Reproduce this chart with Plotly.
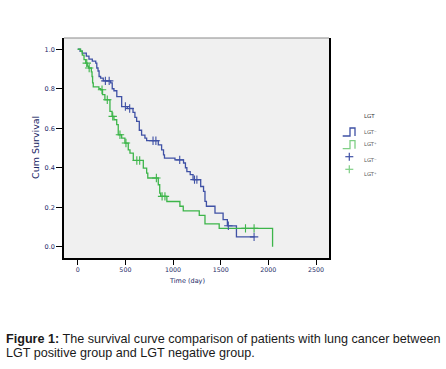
import numpy as np
import plotly.graph_objects as go

# ---- data ----
blue_times = [25, 48, 90, 118, 153, 189, 200, 213, 224, 240, 268, 345, 362, 380, 410, 461,
              520, 580, 600, 618, 646, 670, 705, 723, 845, 880, 900, 910, 1020, 1110, 1130,
              1145, 1180, 1210, 1290, 1320, 1335, 1350, 1440, 1525, 1570, 1665]
blue_surv = [0.99, 0.98, 0.965, 0.95, 0.94, 0.93, 0.905, 0.89, 0.862, 0.854, 0.84, 0.83, 0.80,
             0.79, 0.76, 0.71, 0.70, 0.68, 0.655, 0.635, 0.59, 0.565, 0.55, 0.537, 0.516, 0.49,
             0.465, 0.449, 0.44, 0.424, 0.40, 0.38, 0.365, 0.34, 0.305, 0.28, 0.23, 0.205,
             0.17, 0.137, 0.106, 0.05]
blue_censor = [290, 330, 500, 545, 790, 820, 1070, 1225, 1250, 1580, 1850]
blue_end = 1855

green_times = [30, 48, 66, 84, 100, 115, 143, 150, 156, 163, 222, 240, 260, 285, 338, 360, 380,
               409, 425, 461, 495, 530, 548, 583, 688, 723, 735, 845, 860, 870, 935, 1072, 1107,
               1275, 1335, 1484, 2044]
green_surv = [0.99, 0.97, 0.947, 0.93, 0.915, 0.905, 0.885, 0.862, 0.83, 0.81, 0.80, 0.795, 0.77,
              0.744, 0.685, 0.66, 0.643, 0.618, 0.567, 0.55, 0.525, 0.49, 0.474, 0.437, 0.398,
              0.373, 0.348, 0.314, 0.272, 0.255, 0.229, 0.205, 0.182, 0.159, 0.116, 0.093, 0.0]
green_censor = [95, 120, 255, 310, 367, 443, 506, 620, 650, 825, 885, 915, 1760, 1850]

x_ticks = [0, 500, 1000, 1500, 2000, 2500]
y_ticks = [0.0, 0.2, 0.4, 0.6, 0.8, 1.0]

BLUE = "#3f51a5"
GREEN = "#3db54a"
LIGHT_GREEN = "#7fcf85"
TXT = "#1c2866"

def step_value(times, surv, t):
    idx = np.searchsorted(np.array(times), t, side="right") - 1
    return 1.0 if idx < 0 else surv[idx]

fig = go.Figure()

bx = [0] + blue_times + [blue_end]
by = [1.0] + blue_surv + [blue_surv[-1]]
gx = [0] + green_times
gy = [1.0] + green_surv
fig.add_trace(go.Scatter(x=bx, y=by, mode="lines", line=dict(color=BLUE, width=1.3, shape="hv"),
                         showlegend=False, hoverinfo="skip"))
fig.add_trace(go.Scatter(x=gx, y=gy, mode="lines", line=dict(color=GREEN, width=1.3, shape="hv"),
                         showlegend=False, hoverinfo="skip"))
fig.add_trace(go.Scatter(x=blue_censor, y=[step_value(blue_times, blue_surv, t) for t in blue_censor],
                         mode="markers", marker=dict(symbol="cross-thin-open", size=6, color=BLUE,
                                                     line=dict(color=BLUE, width=1.1)),
                         showlegend=False, hoverinfo="skip"))
fig.add_trace(go.Scatter(x=green_censor, y=[step_value(green_times, green_surv, t) for t in green_censor],
                         mode="markers", marker=dict(symbol="cross-thin-open", size=6, color=GREEN,
                                                     line=dict(color=GREEN, width=1.1)),
                         showlegend=False, hoverinfo="skip"))

L, R, T, B = 64, 329, 38, 258
W, H = 446, 369
def px(x):
    return (x - L) / (R - L)
def py(y):
    return (B - y) / (B - T)

shapes = [
    dict(type="line", xref="paper", yref="paper", x0=0, x1=1, y0=1, y1=1,
         line=dict(color="#8a8a8a", width=1)),
]
def step_icon(y0, color):
    return dict(type="path", xref="paper", yref="paper",
                path=f"M {px(342.7)},{py(y0)} L {px(350)},{py(y0)} L {px(350)},{py(y0-8)} "
                     f"L {px(355)},{py(y0-8)} L {px(355)},{py(y0)}",
                line=dict(color=color, width=1.3))
def plus_icon(yc, color):
    return [dict(type="line", xref="paper", yref="paper", x0=px(345.3), x1=px(353.3),
                 y0=py(yc), y1=py(yc), line=dict(color=color, width=1.2)),
            dict(type="line", xref="paper", yref="paper", x0=px(349.3), x1=px(349.3),
                 y0=py(yc - 4), y1=py(yc + 4), line=dict(color=color, width=1.2))]
shapes.append(step_icon(136, BLUE))
shapes.append(step_icon(148.7, LIGHT_GREEN))
shapes += plus_icon(156.7, BLUE)
shapes += plus_icon(169.3, LIGHT_GREEN)

annotations = [
    dict(text="Cum Survival", xref="paper", yref="paper", x=px(35), y=py(148), textangle=-90,
         showarrow=False, font=dict(family="DejaVu Sans", size=9.5, color=TXT),
         xanchor="center", yanchor="middle"),
    dict(text="Time (day)", xref="paper", yref="paper", x=px(186.5), y=py(281),
         showarrow=False, font=dict(family="DejaVu Sans", size=6.5, color=TXT),
         xanchor="center", yanchor="middle"),
    dict(text="LGT", xref="paper", yref="paper", x=px(362), y=py(115.7),
         showarrow=False, font=dict(family="DejaVu Sans", size=5.5, color="#333"),
         xanchor="left", yanchor="middle"),
]
for yc, lab in [(131.7, "LGT⁻"), (144.3, "LGT⁺"), (160.0, "LGT⁻"), (174.3, "LGT⁺")]:
    annotations.append(dict(text=lab, xref="paper", yref="paper", x=px(362), y=py(yc),
                            showarrow=False, font=dict(family="DejaVu Sans", size=5.2, color="#555"),
                            xanchor="left", yanchor="middle"))
annotations.append(dict(text="<b>Figure 1:</b> The survival curve comparison of patients with lung cancer between",
                        xref="paper", yref="paper", x=px(4), y=py(338.5), showarrow=False,
                        font=dict(family="Liberation Sans", size=12.6, color="#1a1a1a"),
                        xanchor="left", yanchor="middle"))
annotations.append(dict(text="LGT positive group and LGT negative group.",
                        xref="paper", yref="paper", x=px(4), y=py(353), showarrow=False,
                        font=dict(family="Liberation Sans", size=12.6, color="#1a1a1a"),
                        xanchor="left", yanchor="middle"))

fig.update_layout(
    width=W, height=H,
    margin=dict(l=L, r=W - R, t=T, b=H - B, pad=0),
    paper_bgcolor="white", plot_bgcolor="#f0f0f0",
    shapes=shapes, annotations=annotations,
    xaxis=dict(range=[-144, 2636], tickvals=x_ticks, ticktext=[str(v) for v in x_ticks],
               showgrid=False, zeroline=False, showline=True, linecolor="black", linewidth=1.5,
               ticks="outside", ticklen=5, tickwidth=1, tickcolor="black",
               tickfont=dict(family="DejaVu Sans", size=6.3, color=TXT)),
    yaxis=dict(range=[-0.057, 1.057], tickvals=y_ticks, ticktext=[f"{v:.1f}" for v in y_ticks],
               showgrid=False, zeroline=False, showline=True, linecolor="black", linewidth=1.5,
               mirror=True, ticks="outside", ticklen=6, tickwidth=1, tickcolor="black",
               tickfont=dict(family="DejaVu Sans", size=6.5, color=TXT)),
)
fig.write_html("out.html", config={"displayModeBar": False},
               post_script="document.body.style.margin='0px';")
